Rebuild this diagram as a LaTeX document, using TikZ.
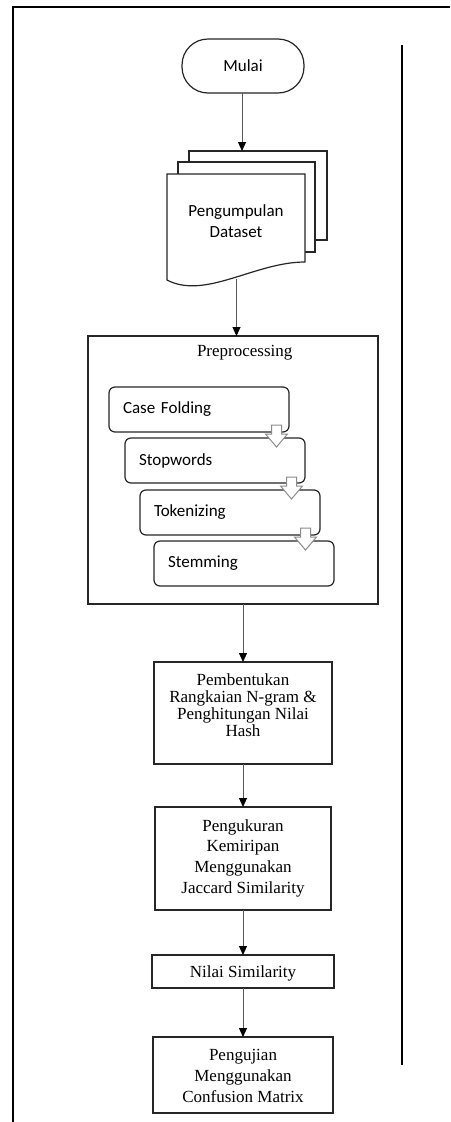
\documentclass[tikz,border=0pt]{standalone}
\usepackage{fontspec}
\setmainfont{Liberation Serif}
\newfontfamily\calfont{Carlito}
\usetikzlibrary{arrows.meta,calc}
\begin{document}
\begin{tikzpicture}[x=1pt,y=-1pt,
  every node/.style={inner sep=0pt, outer sep=0pt},
  frameline/.style={line width=2pt, draw=black},
  boxline/.style={draw=black!85, line width=1.2pt, fill=white},
  conn/.style={draw=black!65, line width=1pt, -{Triangle[length=9pt,width=8pt,color=black]}},
  sans/.style={font=\calfont\fontsize{17}{21}\selectfont},
  serif/.style={font=\fontsize{17}{17}\selectfont},
  stepbox/.style={boxline, rounded corners=6pt, minimum width=180pt, minimum height=45pt,
     text width=152pt, inner xsep=14pt, align=left, anchor=north west, sans},
  procbox/.style={boxline, minimum height=#1},
  barrow/.style={draw=black!45, line width=1pt, fill=white, line join=miter}
]
\useasboundingbox (0,0) rectangle (450,1122);

% outer frame
\draw[frameline] (13,1122) -- (13,7) -- (450,7);
\draw[frameline] (401.5,45) -- (401.5,1065);

% start
\node[boxline, rounded corners=26pt, minimum width=122pt, minimum height=54pt, sans] (mulai) at (243,66) {Mulai};

% multi-document
\draw[boxline] (189,151) rectangle (327,240);
\draw[boxline] (178,162) rectangle (315,252);
\draw[boxline] (167,174) -- (305,174) -- (305,262) .. controls (255,262) and (205,300) .. (167,280) -- cycle;
\node[sans, align=center] (doc) at (236,221) {Pengumpulan\\Dataset};
\coordinate (doctop) at (242,151);
\coordinate (docbot) at (236.5,279);

\draw[conn] (mulai.south -| doctop) -- (doctop);

% preprocessing group
\node[draw=black!85, line width=1.2pt, minimum width=290pt, minimum height=268pt] (pre) at (233,470) {};
\node[serif] (pretitle) at (244.7,353) {Preprocessing};
\draw[conn] (docbot) -- (docbot |- pre.north);

\node[stepbox] (cf) at (109,387) {Case Folding};
\node[stepbox] (sw) at (125,438) {Stopwords};
\node[stepbox] (tk) at (140,490) {Tokenizing};
\node[stepbox] (st) at (154,541) {Stemming};

\foreach \n in {sw,tk,st}{
  \draw[barrow] ($(\n.north east)+(-28.5,9)$) -- ++(-11,-13) -- ++(6,0) -- ++(0,-9) -- ++(10,0) -- ++(0,9) -- ++(6,0) -- cycle;
}

% lower process boxes
\node[boxline, minimum width=178pt, minimum height=102pt] (p1) at (243,713) {};
\node[serif, align=center] (p1t) at (243,705.5) {Pembentukan\\Rangkaian N-gram \&\\Penghitungan Nilai\\Hash};

\node[boxline, minimum width=176pt, minimum height=103pt] (p2) at (243,858.5) {};
\node[align=center, font=\fontsize{17}{20.7}\selectfont] (p2t) at (243,858) {Pengukuran\\Kemiripan\\Menggunakan\\Jaccard Similarity};

\node[boxline, minimum width=182pt, minimum height=33pt] (p3) at (243,971.5) {};
\node[serif] (p3t) at (243,973) {Nilai Similarity};

\node[boxline, minimum width=180pt, minimum height=76pt] (p4) at (243,1075) {};
\node[align=center, font=\fontsize{17}{21}\selectfont] (p4t) at (243,1076) {Pengujian\\Menggunakan\\Confusion Matrix};

\draw[conn] (p1.north |- pre.south) -- (p1.north);
\draw[conn] (p1.south) -- (p2.north);
\draw[conn] (p2.south) -- (p3.north);
\draw[conn] (p3.south) -- (p4.north);
\end{tikzpicture}
\end{document}
